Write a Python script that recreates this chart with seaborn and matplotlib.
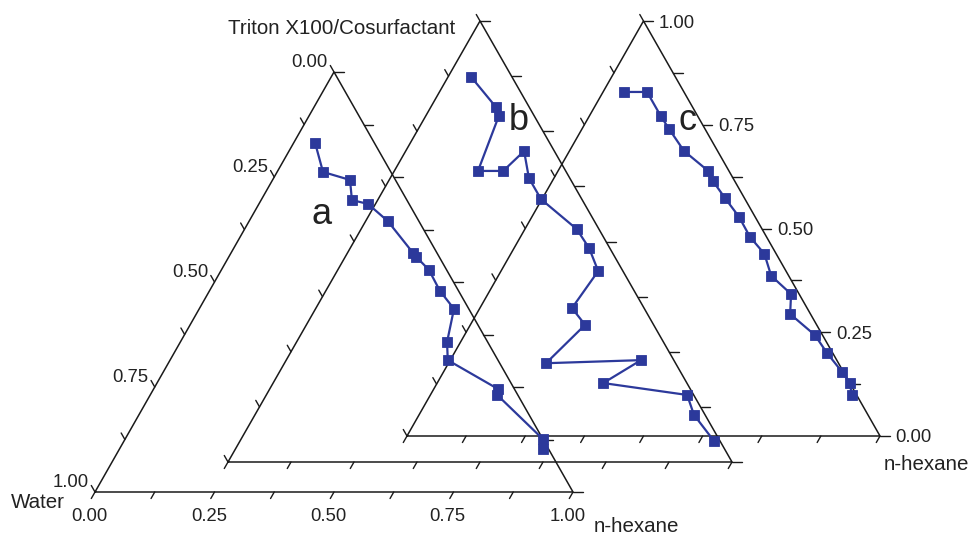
import numpy as np
import pandas as pd
import matplotlib
matplotlib.use("Agg")
import matplotlib.pyplot as plt
import seaborn as sns

# Phase-boundary compositions (mass fractions) for three systems a, b, c
# order of components: water, n-hexane, Triton X100/cosurfactant
water_a = [0.124, 0.142, 0.095, 0.115, 0.086, 0.065, 0.050, 0.048, 0.037,
           0.039, 0.031, 0.085, 0.105, 0.034, 0.043, 0.000, 0.012]
hexane_a = [0.045, 0.096, 0.162, 0.190, 0.228, 0.290, 0.381, 0.392, 0.434,
            0.482, 0.533, 0.558, 0.581, 0.721, 0.726, 0.874, 0.886]
triton_a = [0.831, 0.762, 0.743, 0.695, 0.686, 0.645, 0.569, 0.560, 0.529,
            0.479, 0.436, 0.357, 0.314, 0.245, 0.231, 0.126, 0.102]

water_b = [0.081, 0.066, 0.070, 0.174, 0.124, 0.060, 0.081, 0.081, 0.044, 0.041,
           0.049, 0.143, 0.136, 0.257, 0.065, 0.166, 0.013, 0.022, 0.012]
hexane_b = [0.046, 0.129, 0.145, 0.166, 0.216, 0.235, 0.275, 0.323, 0.428, 0.474,
            0.518, 0.508, 0.553, 0.519, 0.704, 0.655, 0.835, 0.871, 0.940]
triton_b = [0.873, 0.805, 0.785, 0.660, 0.660, 0.705, 0.644, 0.596, 0.528, 0.485,
            0.433, 0.349, 0.311, 0.224, 0.231, 0.179, 0.152, 0.107, 0.048]

water_c = [0.127, 0.078, 0.078, 0.076, 0.071, 0.044, 0.046, 0.041, 0.034, 0.035,
           0.025, 0.037, 0.017, 0.043, 0.016, 0.012, 0.003, 0.000, 0.010]
hexane_c = [0.044, 0.093, 0.151, 0.184, 0.242, 0.317, 0.340, 0.386, 0.438, 0.485,
            0.536, 0.577, 0.641, 0.663, 0.741, 0.788, 0.843, 0.872, 0.891]
triton_c = [0.829, 0.829, 0.771, 0.740, 0.687, 0.639, 0.614, 0.573, 0.528, 0.480,
            0.439, 0.386, 0.342, 0.294, 0.243, 0.200, 0.154, 0.128, 0.099]

tick_values = [0.0, 0.25, 0.5, 0.75, 1.0]
tick_labels = ["0.00", "0.25", "0.50", "0.75", "1.00"]
panel_letters = ["a", "b", "c"]

# Triangle frames in figure pixel units: (x of water corner, y of base, base width, height)
frames = {
    "a": (95.0, 492.0, 478.0, 420.0),
    "b": (228.0, 462.0, 504.0, 441.0),
    "c": (407.0, 436.0, 473.0, 415.0),
}

LINE_COLOR = "#2c399b"
FRAME_COLOR = "#1a1a1a"

sns.set_theme(style="white")
plt.rcParams["font.family"] = ["Liberation Sans", "DejaVu Sans"]
plt.rcParams["text.color"] = "#222222"

fig = plt.figure(figsize=(9.71, 5.38), dpi=100)
ax = fig.add_axes([0, 0, 1, 1])
ax.set_xlim(0, 971)
ax.set_ylim(538, 0)
ax.axis("off")


def corners(frame):
    x0, y0, w, h = frame
    W = np.array([x0, y0])
    H = np.array([x0 + w, y0])
    T = np.array([x0 + w / 2.0, y0 - h])
    return W, H, T


def project(frame, hexane, triton):
    W, H, T = corners(frame)
    hexane = np.asarray(hexane)
    triton = np.asarray(triton)
    px = W[0] + hexane * (H[0] - W[0]) + triton * (T[0] - W[0])
    py = W[1] + triton * (T[1] - W[1])
    return px, py


def draw_frame(frame, label_left=False, label_bottom=False, label_right=False):
    W, H, T = corners(frame)
    ax.plot([W[0], H[0], T[0], W[0]], [W[1], H[1], T[1], W[1]],
            color=FRAME_COLOR, lw=1.1, solid_joinstyle="miter", zorder=2)
    up_left = (T - H) / np.linalg.norm(T - H)
    down_left = (W - T) / np.linalg.norm(W - T)
    right = np.array([1.0, 0.0])
    for k in range(9):
        v = k / 8.0
        # water axis along the left edge (0 at top)
        p = T + v * (W - T)
        e = p + 7.5 * up_left
        ax.plot([p[0], e[0]], [p[1], e[1]], color=FRAME_COLOR, lw=1.0, zorder=2)
        if label_left and k % 2 == 0:
            ax.text(e[0] - 2.5, e[1] + 1.5, tick_labels[k // 2], ha="right",
                    va="baseline", fontsize=13.3)
        # n-hexane axis along the base
        p = W + v * (H - W)
        e = p + 7.5 * down_left
        ax.plot([p[0], e[0]], [p[1], e[1]], color=FRAME_COLOR, lw=1.0, zorder=2)
        if label_bottom and k % 2 == 0:
            ax.text(e[0] - 2.0, e[1] + 22, tick_labels[k // 2], ha="center",
                    va="baseline", fontsize=13.3)
        # Triton X100/cosurfactant axis along the right edge (0 at bottom)
        p = H + v * (T - H)
        e = p + 9.5 * right
        ax.plot([p[0], e[0]], [p[1], e[1]], color=FRAME_COLOR, lw=1.0, zorder=2)
        if label_right and k % 2 == 0:
            ax.text(e[0] + 6, e[1], tick_labels[k // 2], ha="left",
                    va="center_baseline", fontsize=13.3)


draw_frame(frames["a"], label_left=True, label_bottom=True)
draw_frame(frames["b"])
draw_frame(frames["c"], label_right=True)

series = {
    "a": (water_a, hexane_a, triton_a),
    "b": (water_b, hexane_b, triton_b),
    "c": (water_c, hexane_c, triton_c),
}

for name, (wat, hex_, tri) in series.items():
    px, py = project(frames[name], hex_, tri)
    df = pd.DataFrame({"x": px, "y": py, "water": wat})
    sns.lineplot(data=df, x="x", y="y", sort=False, estimator=None, ax=ax,
                 color=LINE_COLOR, linewidth=1.6, marker="s", markersize=7,
                 markeredgewidth=0.6, markeredgecolor=LINE_COLOR, zorder=4)

ax.set_xlim(0, 971)
ax.set_ylim(538, 0)
ax.set_xlabel("")
ax.set_ylabel("")
ax.axis("off")

# Panel letters
ax.text(322, 214, "a", fontsize=26, ha="center", va="center")
ax.text(519, 121, "b", fontsize=26, ha="center", va="center")
ax.text(688, 120, "c", fontsize=26, ha="center", va="center")

# Component names
ax.text(342, 29, "Triton X100/Cosurfactant", fontsize=14.8, ha="center", va="center")
ax.text(38, 502, "Water", fontsize=14.8, ha="center", va="center")
ax.text(636, 527, "n-hexane", fontsize=14.8, ha="center", va="center")
ax.text(926, 464, "n-hexane", fontsize=14.8, ha="center", va="center")

fig.savefig("out.png", dpi=100)
